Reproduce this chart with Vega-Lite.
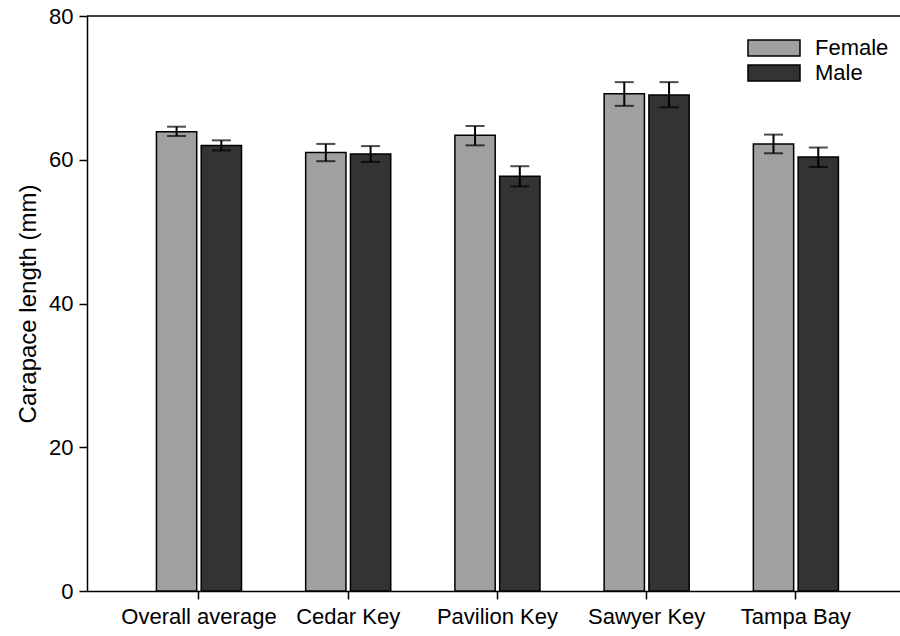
{
  "$schema": "https://vega.github.io/schema/vega-lite/v6.json",
  "autosize": {"type": "none"},
  "padding": {"left": 87, "top": 16, "right": 0, "bottom": 45},
  "width": 813,
  "height": 575,
  "background": "white",
  "config": {
    "view": {"stroke": null},
    "font": "Liberation Sans",
    "axis": {"labelFont": "Liberation Sans", "titleFont": "Liberation Sans", "labelColor": "black", "titleColor": "black", "domainColor": "black", "tickColor": "black", "domainWidth": 1.5, "tickWidth": 1.5, "grid": false}
  },
  "data": {
    "values": [
      {"site": "Overall average", "sex": "Female", "mean": 63.9, "lo": 63.3, "hi": 64.6},
      {"site": "Overall average", "sex": "Male", "mean": 62.0, "lo": 61.3, "hi": 62.7},
      {"site": "Cedar Key", "sex": "Female", "mean": 61.0, "lo": 59.8, "hi": 62.2},
      {"site": "Cedar Key", "sex": "Male", "mean": 60.8, "lo": 59.7, "hi": 61.9},
      {"site": "Pavilion Key", "sex": "Female", "mean": 63.4, "lo": 62.0, "hi": 64.7},
      {"site": "Pavilion Key", "sex": "Male", "mean": 57.7, "lo": 56.3, "hi": 59.1},
      {"site": "Sawyer Key", "sex": "Female", "mean": 69.2, "lo": 67.5, "hi": 70.8},
      {"site": "Sawyer Key", "sex": "Male", "mean": 69.0, "lo": 67.3, "hi": 70.8},
      {"site": "Tampa Bay", "sex": "Female", "mean": 62.2, "lo": 60.9, "hi": 63.5},
      {"site": "Tampa Bay", "sex": "Male", "mean": 60.4, "lo": 59.0, "hi": 61.7}
    ]
  },
  "encoding": {
    "x": {
      "field": "site", "type": "nominal", "sort": null,
      "scale": {"paddingInner": 0.43, "paddingOuter": 0.439, "align": 0.53},
      "axis": {"title": null, "labelAngle": 0, "labelFontSize": 22, "tickSize": 8, "labelPadding": 7, "domainWidth": 1.5}
    },
    "xOffset": {"field": "sex", "type": "nominal", "sort": ["Female", "Male"], "scale": {"paddingInner": 0.1, "paddingOuter": 0}}
  },
  "layer": [
    {
      "mark": {"type": "bar", "stroke": "black", "strokeWidth": 1.5},
      "encoding": {
        "y": {
          "field": "mean", "type": "quantitative",
          "scale": {"domain": [0, 80], "nice": false},
          "axis": {"title": "Carapace length (mm)", "titleFontSize": 24, "titleFontWeight": "normal", "titlePadding": 8, "labelFontSize": 22, "values": [0, 20, 40, 60, 80], "tickSize": 8, "labelPadding": 6}
        },
        "fill": {
          "field": "sex", "type": "nominal",
          "scale": {"domain": ["Female", "Male"], "range": ["#a0a0a0", "#333333"]},
          "legend": {
            "title": null, "orient": "none", "legendX": 676, "legendY": 21,
            "padding": 0, "symbolType": "M-3.25,-1H3.25V1H-3.25Z", "symbolSize": 256,
            "symbolStrokeColor": "black", "symbolStrokeWidth": 1.5, "symbolOpacity": 1,
            "labelFontSize": 22, "labelColor": "black", "labelFont": "Liberation Sans", "labelOffset": 30, "rowPadding": 3
          }
        }
      }
    },
    {
      "mark": {"type": "rule", "color": "black", "strokeWidth": 2},
      "encoding": {
        "y": {"field": "lo", "type": "quantitative"},
        "y2": {"field": "hi"}
      }
    },
    {
      "mark": {"type": "tick", "color": "black", "size": 19, "thickness": 2, "orient": "horizontal"},
      "encoding": {"y": {"field": "lo", "type": "quantitative"}}
    },
    {
      "mark": {"type": "tick", "color": "black", "size": 19, "thickness": 2, "orient": "horizontal"},
      "encoding": {"y": {"field": "hi", "type": "quantitative"}}
    },
    {
      "data": {"values": [{"top": 80}]},
      "mark": {"type": "rule", "color": "black", "strokeWidth": 1.5},
      "encoding": {"y": {"field": "top", "type": "quantitative"}, "x": null, "xOffset": null}
    }
  ]
}
